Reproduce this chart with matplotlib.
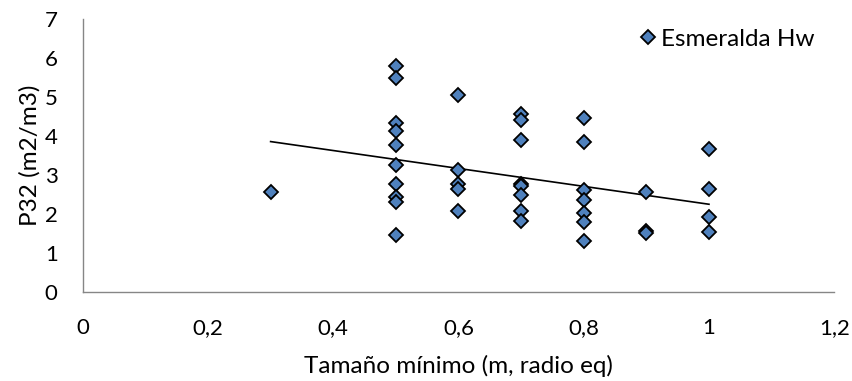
import numpy as np
import matplotlib.pyplot as plt
from matplotlib.ticker import FuncFormatter

plt.rcParams['font.family'] = ['Lato', 'DejaVu Sans']

# data
size_m = [0.3,
          0.5, 0.5, 0.5, 0.5, 0.5, 0.5, 0.5, 0.5, 0.5, 0.5,
          0.6, 0.6, 0.6, 0.6, 0.6,
          0.7, 0.7, 0.7, 0.7, 0.7, 0.7, 0.7, 0.7,
          0.8, 0.8, 0.8, 0.8, 0.8, 0.8, 0.8,
          0.9, 0.9, 0.9,
          1.0, 1.0, 1.0, 1.0]
p32 = [2.57,
       5.79, 5.48, 4.34, 4.14, 3.76, 3.26, 2.76, 2.44, 2.30, 1.46,
       5.05, 3.13, 2.77, 2.63, 2.08,
       4.56, 4.41, 3.89, 2.77, 2.72, 2.49, 2.08, 1.82,
       4.47, 3.85, 2.62, 2.36, 2.03, 1.79, 1.31,
       2.55, 1.55, 1.50,
       3.67, 2.65, 1.93, 1.54]
series_name = "Esmeralda Hw"

fs = 16
fs_lab = 17.5

fig = plt.figure(figsize=(8.53, 3.81), dpi=100)
ax = fig.add_axes([0.097, 0.234, 0.881, 0.716])

ax.plot(size_m, p32, linestyle='none', marker='D', markersize=7,
        markerfacecolor='#4F81BD', markeredgecolor='black', markeredgewidth=1.3,
        label=series_name, zorder=3)

# linear trend line
coef = np.polyfit(size_m, p32, 1)
xs = np.array([min(size_m), max(size_m)])
ax.plot(xs, np.polyval(coef, xs), color='black', linewidth=1.2, zorder=2)

ax.set_xlim(0, 1.2)
ax.set_ylim(0, 7)
ax.set_xticks(np.arange(0, 1.21, 0.2))
ax.set_yticks(range(0, 8))
ax.xaxis.set_major_formatter(FuncFormatter(lambda v, p: f"{v:g}".replace('.', ',')))
ax.tick_params(length=0, labelsize=fs)
ax.tick_params(axis='x', pad=19)
ax.tick_params(axis='y', pad=18)

for s in ['top', 'right']:
    ax.spines[s].set_visible(False)
for s in ['left', 'bottom']:
    ax.spines[s].set_color('#868686')
    ax.spines[s].set_linewidth(1)

ax.set_xlabel("Tamaño mínimo (m, radio eq)", fontsize=fs_lab, labelpad=12)
ax.set_ylabel("P32 (m2/m3)", fontsize=fs_lab, labelpad=3)

ax.legend(loc='upper right', frameon=False, fontsize=fs_lab, handletextpad=0.05,
          handlelength=1.0, borderaxespad=0, bbox_to_anchor=(0.987, 1.0))

fig.savefig("out.png", dpi=100)
